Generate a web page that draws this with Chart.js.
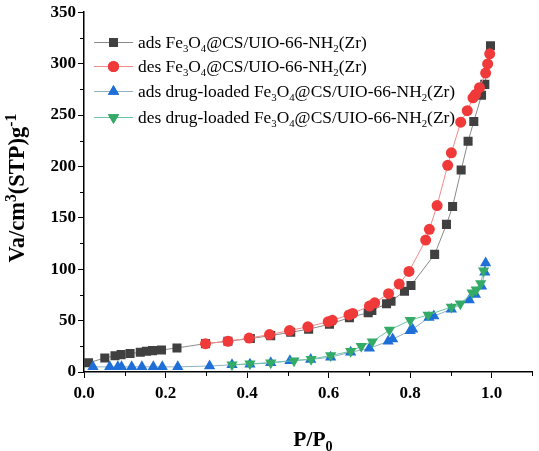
<!DOCTYPE html>
<html>
<head>
<meta charset="utf-8">
<script src="https://cdn.jsdelivr.net/npm/chart.js@4.4.0/dist/chart.umd.min.js"></script>
<style>
  html, body { margin: 0; padding: 0; background: #fff; }
  #wrap { width: 539px; height: 451px; }
</style>
</head>
<body>
<div id="wrap"><canvas id="bet"></canvas></div>
<script>
// P/P0 and adsorbed volume
const adsX = [0.011, 0.051, 0.076, 0.091, 0.113, 0.138, 0.153, 0.168, 0.19, 0.228, 0.298, 0.353, 0.408, 0.458, 0.507, 0.551, 0.602, 0.651, 0.697, 0.706, 0.742, 0.753, 0.786, 0.802, 0.86, 0.889, 0.904, 0.925, 0.942, 0.956, 0.975, 0.983, 0.997];
const adsY = [9, 13.6, 15.9, 16.9, 17.9, 19.2, 20.1, 20.8, 21.4, 23.4, 27.6, 29.9, 32.5, 35.4, 38.6, 41.7, 46.4, 52.9, 57.7, 59.9, 66.3, 68.8, 78.6, 84.2, 114.4, 143.6, 161, 196.5, 224.4, 243.6, 269.2, 279.8, 317.3];

const desX = [0.298, 0.353, 0.405, 0.455, 0.504, 0.549, 0.599, 0.609, 0.65, 0.659, 0.70, 0.713, 0.747, 0.773, 0.797, 0.838, 0.847, 0.866, 0.892, 0.901, 0.924, 0.94, 0.954, 0.96, 0.97, 0.985, 0.99, 0.995];
const desY = [27.6, 29.9, 33, 36.4, 40.3, 44, 49, 50.3, 55.5, 57, 64.1, 67.3, 76.2, 85.5, 97.8, 128.3, 138.8, 161.9, 201, 213.2, 243, 254.2, 266.7, 269.9, 276.6, 290.8, 299.7, 309.5];

const drugAdsX = [0.022, 0.063, 0.083, 0.092, 0.117, 0.142, 0.17, 0.192, 0.23, 0.308, 0.363, 0.407, 0.458, 0.505, 0.556, 0.605, 0.654, 0.70, 0.746, 0.757, 0.80, 0.806, 0.846, 0.858, 0.901, 0.945, 0.96, 0.975, 0.983, 0.985];
const drugAdsY = [5, 5, 5, 5, 5, 5, 5, 5, 5, 5.8, 7, 7.5, 9, 11, 12.2, 14.4, 19.2, 23.1, 29.8, 32, 40.1, 41.7, 52.9, 54.5, 61, 70, 75.4, 83.4, 97, 106];

const drugDesX = [0.363, 0.407, 0.458, 0.515, 0.557, 0.605, 0.654, 0.68, 0.707, 0.749, 0.80, 0.844, 0.901, 0.923, 0.952, 0.962, 0.973, 0.98];
const drugDesY = [7, 8, 9, 11, 12.5, 16, 20.2, 25, 29.5, 40.8, 50.4, 55.5, 63.2, 66.3, 77, 80, 86, 98.5];

// legend names split into [text, 'sub'] parts
const seriesNames = [
    [["ads Fe"], ["3", "sub"], ["O"], ["4", "sub"], ["@CS/UIO-66-NH"], ["2", "sub"], ["(Zr)"]],
    [["des Fe"], ["3", "sub"], ["O"], ["4", "sub"], ["@CS/UIO-66-NH"], ["2", "sub"], ["(Zr)"]],
    [["ads drug-loaded Fe"], ["3", "sub"], ["O"], ["4", "sub"], ["@CS/UIO-66-NH"], ["2", "sub"], ["(Zr)"]],
    [["des drug-loaded Fe"], ["3", "sub"], ["O"], ["4", "sub"], ["@CS/UIO-66-NH"], ["2", "sub"], ["(Zr)"]],
];

const xTicks = [0, 0.2, 0.4, 0.6, 0.8, 1.0];
const yTicks = [0, 50, 100, 150, 200, 250, 300, 350];

const toPoints = (xs, ys) => xs.map((x, i) => ({ x: x, y: ys[i] }));

const serif = "'Liberation Serif', 'Times New Roman', serif";

const styles = [
    { fill: "#404040", line: "#8a8a8a", shape: "rect", radius: 6.4, rotation: 0 },
    { fill: "#f03a3a", line: "#f08a8a", shape: "circle", radius: 5.5, rotation: 0 },
    { fill: "#1f6fd8", line: "#8fb2c6", shape: "triangle", radius: 6.5, rotation: 0 },
    { fill: "#33aa66", line: "#6cc2a4", shape: "triangle", radius: 6.5, rotation: 180 },
];

const makeSet = (i, xs, ys, order) => ({
    data: toPoints(xs, ys),
    showLine: true,
    borderColor: styles[i].line,
    borderWidth: 1,
    backgroundColor: styles[i].fill,
    pointBackgroundColor: styles[i].fill,
    pointBorderColor: styles[i].fill,
    pointBorderWidth: 0,
    pointStyle: styles[i].shape,
    pointRadius: styles[i].radius,
    pointRotation: styles[i].rotation,
    pointHoverRadius: styles[i].radius,
    order: order,
});

// draws rich text parts left to right, returns end x
const drawParts = (ctx, parts, x, y, size, weight, ratio = 0.62) => {
    parts.forEach(([txt, kind]) => {
        const s = kind ? size * ratio : size;
        ctx.font = weight + " " + s + "px " + serif;
        let dy = 0;
        if (kind === "sub") dy = size * 0.22;
        if (kind === "sup") dy = -size * 0.36;
        ctx.fillText(txt, x, y + dy);
        x += ctx.measureText(txt).width;
    });
    return x;
};

const partsWidth = (ctx, parts, size, weight, ratio = 0.62) => {
    let w = 0;
    parts.forEach(([txt, kind]) => {
        const s = kind ? size * ratio : size;
        ctx.font = weight + " " + s + "px " + serif;
        w += ctx.measureText(txt).width;
    });
    return w;
};

const decorations = {
    id: "decorations",
    afterDraw: (chart) => {
        const ctx = chart.ctx;
        const xs = chart.scales.x;
        const ys = chart.scales.y;
        ctx.save();
        ctx.strokeStyle = "#000";
        ctx.lineWidth = 1;

        // minor ticks
        for (let v = 0.1; v < 1.15; v += 0.2) {
            const px = Math.round(xs.getPixelForValue(v)) + 0.5;
            ctx.beginPath();
            ctx.moveTo(px, ys.bottom);
            ctx.lineTo(px, ys.bottom + 4);
            ctx.stroke();
        }
        for (let v = 25; v < 350; v += 50) {
            const py = Math.round(ys.getPixelForValue(v)) + 0.5;
            ctx.beginPath();
            ctx.moveTo(xs.left, py);
            ctx.lineTo(xs.left - 4, py);
            ctx.stroke();
        }

        // axis titles
        ctx.fillStyle = "#000";
        ctx.textBaseline = "alphabetic";
        ctx.textAlign = "left";
        const xt = [["P/P"], ["0", "sub"]];
        const xw = partsWidth(ctx, xt, 21.5, "bold", 0.66);
        drawParts(ctx, xt, 313 - xw / 2, 446, 21.5, "bold", 0.66);

        const yt = [["Va/cm"], ["3", "sup"], ["(STP)g"], ["-1", "sup"]];
        const yw = partsWidth(ctx, yt, 22.5, "bold", 0.7);
        ctx.save();
        ctx.translate(24, 188);
        ctx.rotate(-Math.PI / 2);
        drawParts(ctx, yt, -yw / 2, 0, 22.5, "bold", 0.7);
        ctx.restore();

        // legend
        const rowY = [42, 66, 91, 117];
        chart.data.datasets.forEach((ds, i) => {
            const cy = rowY[i];
            ctx.strokeStyle = styles[i].line;
            ctx.lineWidth = 1;
            ctx.beginPath();
            ctx.moveTo(94, cy + 0.5);
            ctx.lineTo(133, cy + 0.5);
            ctx.stroke();
            ctx.fillStyle = styles[i].fill;
            Chart.helpers.drawPoint(ctx, {
                pointStyle: styles[i].shape,
                radius: styles[i].radius,
                rotation: styles[i].rotation,
                borderWidth: 0,
            }, 113.5, cy + 0.5);
            ctx.fill();
            ctx.fillStyle = "#000";
            drawParts(ctx, seriesNames[i], 138, cy + 6, 17.4, "normal");
        });
        ctx.restore();
    },
};

const chartCtx = document.getElementById("bet").getContext("2d");
new Chart(chartCtx, {
    type: "scatter",
    data: {
        datasets: [
            makeSet(0, adsX, adsY, 4),
            makeSet(1, desX, desY, 3),
            makeSet(2, drugAdsX, drugAdsY, 2),
            makeSet(3, drugDesX, drugDesY, 1),
        ],
    },
    options: {
        responsive: true,
        maintainAspectRatio: false,
        animation: false,
        layout: { padding: { left: 0, right: 3, top: 9, bottom: 0 } },
        plugins: {
            legend: { display: false },
            tooltip: { enabled: false },
        },
        scales: {
            x: {
                type: "linear",
                min: 0,
                max: 1.1,
                afterFit: (scale) => { scale.height = 79; },
                afterBuildTicks: (scale) => { scale.ticks = xTicks.map((v) => ({ value: v })); },
                border: { color: "#000", width: 1.5 },
                grid: { drawOnChartArea: false, drawTicks: true, tickLength: 6, tickColor: "#000", tickWidth: 1 },
                ticks: {
                    color: "#000",
                    padding: 5,
                    maxRotation: 0,
                    font: { family: serif, size: 17, weight: "bold" },
                    callback: (v) => Number(v).toFixed(1),
                },
            },
            y: {
                type: "linear",
                min: 0,
                max: 350,
                afterFit: (scale) => { scale.width = 84; },
                afterBuildTicks: (scale) => { scale.ticks = yTicks.map((v) => ({ value: v })); },
                border: { color: "#000", width: 1.5 },
                grid: { drawOnChartArea: false, drawTicks: true, tickLength: 6, tickColor: "#000", tickWidth: 1 },
                ticks: {
                    color: "#000",
                    padding: 2,
                    font: { family: serif, size: 17, weight: "bold" },
                },
            },
        },
    },
    plugins: [decorations],
});
</script>
</body>
</html>
